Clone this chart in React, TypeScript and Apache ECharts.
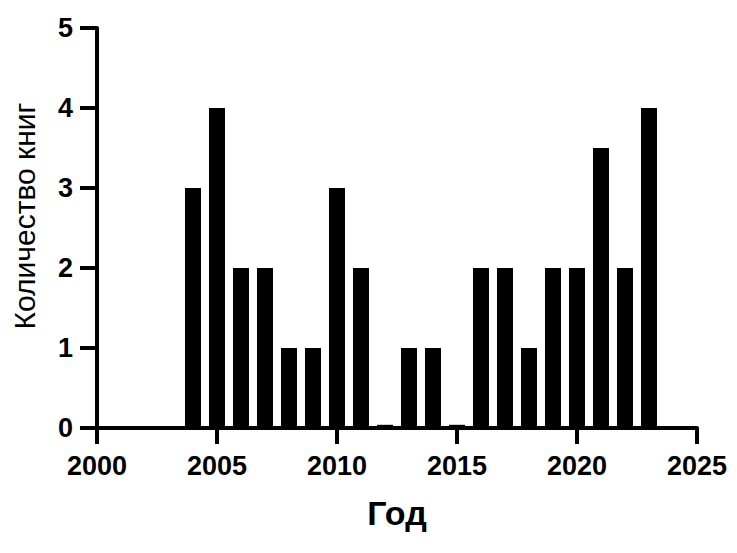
import React, { useEffect, useRef } from 'react';
import * as echarts from 'echarts';

const years = [2004, 2005, 2006, 2007, 2008, 2009, 2010, 2011, 2012, 2013, 2014, 2015, 2016, 2017, 2018, 2019, 2020, 2021, 2022, 2023];
const books = [3, 4, 2, 2, 1, 1, 3, 2, 0.04, 1, 1, 0.04, 2, 2, 1, 2, 2, 3.5, 2, 4];

const font = 'Arial, "Liberation Sans", sans-serif';

const App = () => {
  const chartRef = useRef<HTMLDivElement>(null);

  useEffect(() => {
    if (!chartRef.current) return;
    const chart = echarts.init(chartRef.current, undefined, { renderer: 'svg' });

    chart.setOption({
      animation: false,
      grid: {
        left: 89,
        right: 32,
        top: 20,
        bottom: 117,
        containLabel: false,
        outerBoundsMode: 'none',
      },
      xAxis: {
        type: 'value',
        min: 2000,
        max: 2025,
        interval: 5,
        name: 'Год',
        nameLocation: 'middle',
        nameGap: 68,
        nameTextStyle: { fontFamily: font, fontSize: 34, fontWeight: 'bold', color: '#000' },
        splitLine: { show: false },
        axisLine: { lineStyle: { color: '#000', width: 4 }, onZero: false },
        axisTick: { length: 16, lineStyle: { color: '#000', width: 4 } },
        axisLabel: {
          margin: 24,
          fontFamily: font,
          fontSize: 27,
          fontWeight: 'bold',
          color: '#000',
          formatter: (v: number) => String(v),
        },
      },
      yAxis: {
        type: 'value',
        min: 0,
        max: 5,
        interval: 1,
        name: 'Количество книг',
        nameLocation: 'middle',
        nameGap: 58,
        nameTextStyle: { fontFamily: font, fontSize: 30, color: '#000', padding: [0, 0, 0, 24] },
        splitLine: { show: false },
        axisLine: { show: true, lineStyle: { color: '#000', width: 4 } },
        axisTick: { show: true, length: 17, lineStyle: { color: '#000', width: 4 } },
        axisLabel: {
          margin: 24,
          fontFamily: font,
          fontSize: 27,
          fontWeight: 'bold',
          color: '#000',
        },
      },
      series: [
        {
          type: 'bar',
          barWidth: 16,
          itemStyle: { color: '#000' },
          data: years.map((y, i) => [y, books[i]]),
        },
      ],
    });

    return () => {
      chart.dispose();
    };
  }, []);

  return <div ref={chartRef} style={{ width: '721px', height: '537px' }}></div>;
};

export default App;
